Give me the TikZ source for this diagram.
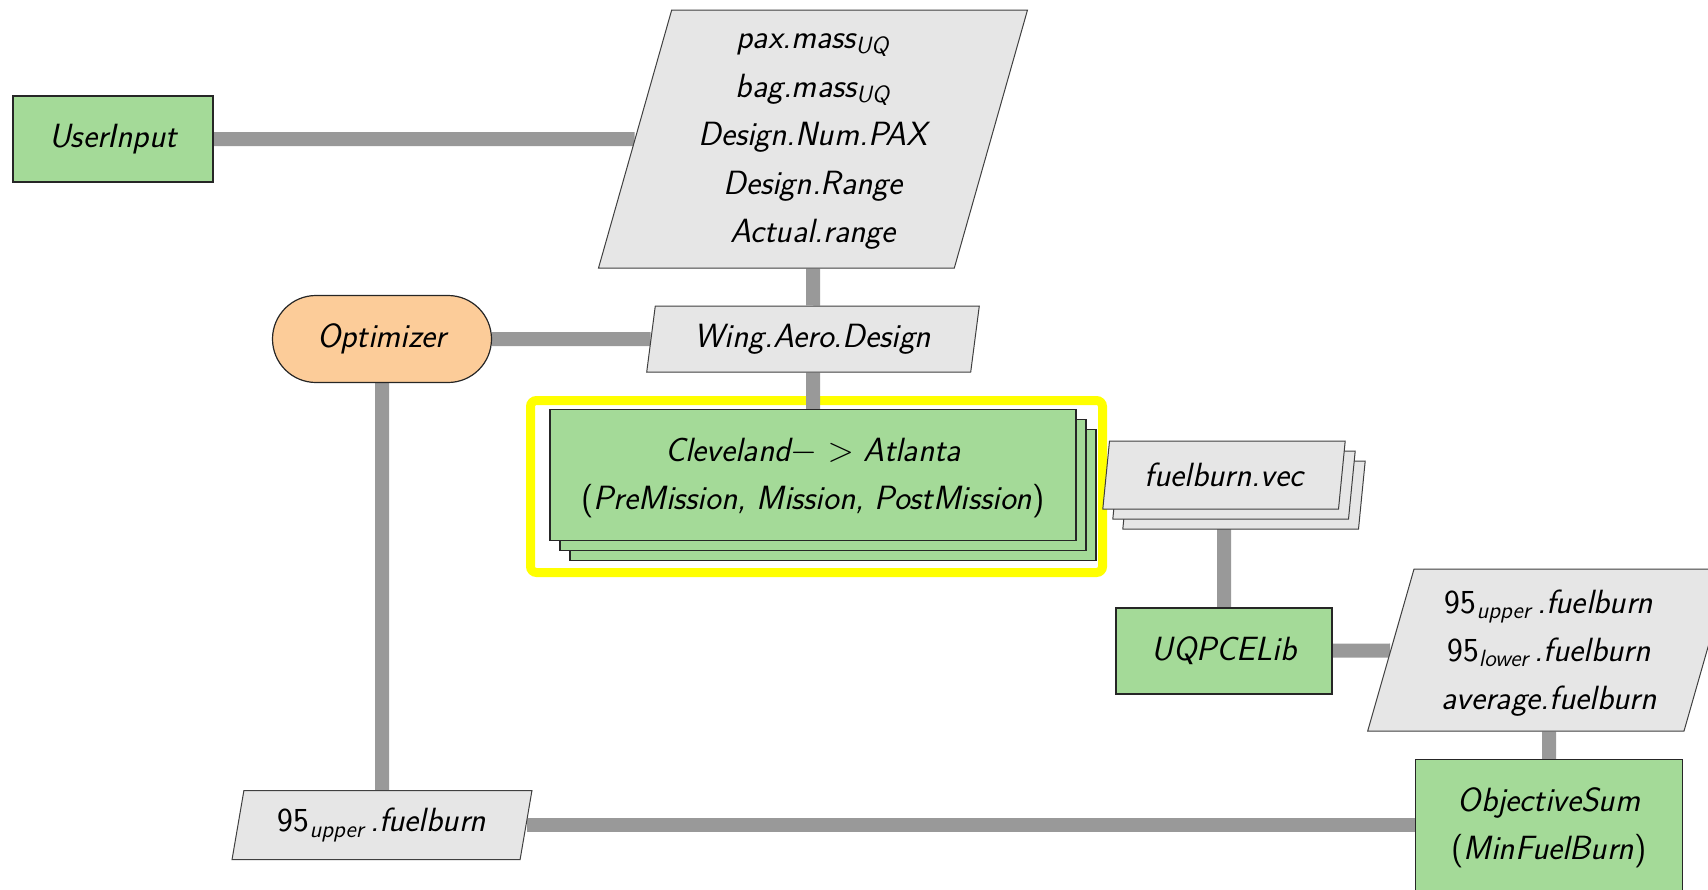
\documentclass[tikz,border=0pt]{standalone}
\usepackage{fontspec}
\usetikzlibrary{shapes.geometric,shapes.misc,shadows}
\definecolor{fngreen}{RGB}{164,218,152}
\definecolor{iogray}{RGB}{230,230,230}
\definecolor{linkgray}{RGB}{153,153,153}
\definecolor{optorange}{RGB}{252,204,153}
\definecolor{hlyellow}{RGB}{255,255,0}
\pgfdeclarelayer{back}
\pgfdeclarelayer{links}
\pgfsetlayers{back,links,main}
\newcommand\lo[1]{\textsubscript{#1}\,}
\newcommand\up[1]{\textup{#1}}
% taller first line, so that stacked labels sit a little lower in their boxes
\newcommand\firstline[1][0.9em]{\rule{0pt}{#1}}
\begin{document}
\begin{tikzpicture}[x=0.5pt,y=-0.5pt,
  every node/.style={font=\sffamily\itshape\fontsize{16.8}{24}\selectfont, align=center, inner sep=0pt, text=black},
  fnbox/.style={rectangle, draw=black!85, line width=0.6pt, fill=fngreen},
  iobox/.style={trapezium, trapezium stretches=true, draw=black!75, line width=0.5pt, fill=iogray},
  slant/.style={trapezium left angle=#1, trapezium right angle=180-#1},
  optbox/.style={rounded rectangle, draw=black!85, line width=0.6pt, fill=optorange},
  stacked/.style={double copy shadow={shadow xshift=5pt, shadow yshift=-5pt}},
  link/.style={draw=linkgray, line width=7pt},
  highlight/.style={draw=hlyellow, line width=4.5pt, rounded corners=3pt, fill=white,
    drop shadow={shadow xshift=1pt, shadow yshift=-1.5pt, opacity=0.25}}]
\useasboundingbox (0,0) rectangle (1708,889);
\clip (0,0) rectangle (1708,889);

% blocks
\node[fnbox, minimum width=100pt, minimum height=43pt] (ui) at (113,139) {UserInput};
\node[iobox, slant=75, minimum width=215pt, minimum height=129pt, font=\sffamily\itshape\fontsize{16.8}{24.3}\selectfont] (inputs) at (813,139)
  {\firstline[0.6em]pax.mass\textsubscript{UQ}\\ bag.mass\textsubscript{UQ}\\ Design.Num.PAX\\ Design.Range\\ Actual.range};
\node[optbox, minimum width=109.5pt, minimum height=43.5pt] (opt) at (382,339) {Optimizer};
\node[iobox, slant=78, minimum width=166.5pt, minimum height=33pt] (wing) at (813,339) {Wing.Aero.Design};
\node[fnbox, stacked, minimum width=263pt, minimum height=65.5pt] (cle) at (813,475)
  {\firstline Cleveland$-$\hspace{0.3em}$>$\hspace{0.3em}Atlanta\\ \up{(}PreMission, Mission, PostMission\up{)}};
\node[iobox, stacked, slant=79, minimum width=121.5pt, minimum height=34pt] (fbv) at (1224,475) {fuelburn.vec};
\node[fnbox, minimum width=108pt, minimum height=43pt] (uq) at (1224,651) {UQPCELib};
\node[iobox, slant=74.5, minimum width=181.5pt, minimum height=81pt] (stats) at (1549,650)
  {\firstline\up{95}\lo{upper}.fuelburn\\ \up{95}\lo{lower}.fuelburn\\ average.fuelburn};
\node[fnbox, minimum width=133.5pt, minimum height=65.5pt] (obj) at (1549,825)
  {\firstline ObjectiveSum\\ \up{(}MinFuelBurn\up{)}};
\node[iobox, slant=75, minimum width=150pt, minimum height=34.5pt] (upper) at (382,825) {\up{95}\lo{upper}.fuelburn};

% highlight frame round the mission analysis
\begin{pgfonlayer}{back}
  \path[highlight] (530.5,400.5) rectangle (1102.5,572.5);
\end{pgfonlayer}

% data connections
\begin{pgfonlayer}{links}
  \draw[link] (ui) -- (inputs);
  \draw[link] (inputs) -- (wing);
  \draw[link] (opt) -- (wing);
  \draw[link] (wing) -- (cle);
  \draw[link] (opt) -- (upper);
  \draw[link] (fbv) -- (uq);
  \draw[link] (uq) -- (stats);
  \draw[link] (stats) -- (obj);
  \draw[link] (upper) -- (obj);
\end{pgfonlayer}
\end{tikzpicture}
\end{document}
